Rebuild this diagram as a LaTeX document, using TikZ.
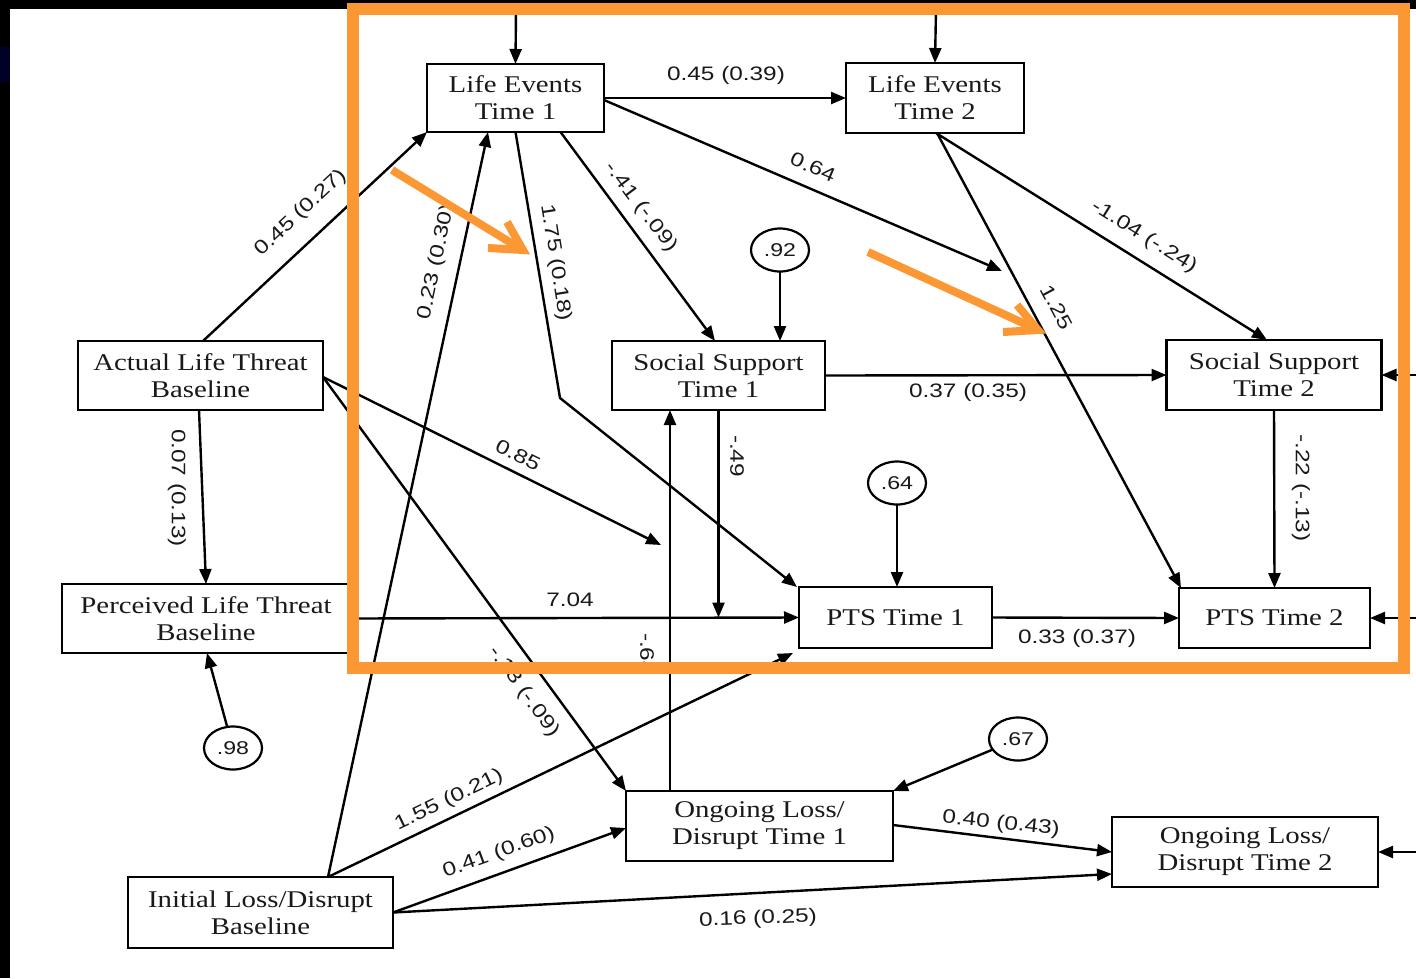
\documentclass[tikz,border=0pt]{standalone}
\usepackage{fontspec}
\usetikzlibrary{arrows.meta,shapes.geometric,calc}
\newfontfamily\boxfont[FakeStretch=1.2]{Liberation Serif}
\newfontfamily\lblfont[FakeStretch=1.25]{Liberation Sans}
\definecolor{frameorange}{RGB}{252,152,51}
\definecolor{navyblk}{RGB}{0,0,40}
\definecolor{inkgray}{RGB}{25,25,25}
\begin{document}
\begin{tikzpicture}[x=1pt,y=-1pt,
  box/.style={draw, line width=2.8pt, rectangle, inner sep=0pt, outer sep=0pt, align=center,
    font=\boxfont\fontsize{24}{27}\selectfont, text=inkgray, fill=white},
  err/.style={draw, ellipse, line width=2.2pt, minimum width=58pt, minimum height=43pt,
    inner sep=0pt, outer sep=0pt, font=\lblfont\fontsize{18.5}{19}\selectfont, text=inkgray, fill=white},
  lbl/.style={inner sep=0pt, text=inkgray, font=\lblfont\fontsize{19.5}{20}\selectfont},
  conn/.style={line width=2.4pt, -{Triangle[length=15pt,width=12pt]}},
  hlarrow/.style={draw=frameorange, line width=8pt},
]
\fill[white] (0,0) rectangle (1416,978);
\useasboundingbox (0,0) rectangle (1416,978);

% boxes
\node[box, minimum width=177pt, minimum height=68pt] (LE1) at (515.5,98) {Life Events\\Time 1};
\node[box, minimum width=178pt, minimum height=70pt] (LE2) at (935,98) {Life Events\\Time 2};
\node[box, minimum width=213pt, minimum height=69pt] (SS1) at (718.5,375.5) {Social Support\\Time 1};
\node[box, minimum width=215pt, minimum height=70pt] (SS2) at (1274,375) {Social Support\\Time 2};
\node[box, minimum width=245pt, minimum height=69pt] (ALT) at (200.5,375.5) {Actual Life Threat\\Baseline};
\node[box, minimum width=288pt, minimum height=69pt] (PLT) at (206,618.5) {Perceived Life Threat\\Baseline};
\node[box, minimum width=265pt, minimum height=71pt] (ILD) at (260.5,912.5) {Initial Loss/Disrupt\\Baseline};
\node[box, minimum width=193pt, minimum height=61pt] (PTS1) at (895.5,617.5) {PTS Time 1};
\node[box, minimum width=191pt, minimum height=60pt] (PTS2) at (1274.5,618) {PTS Time 2};
\node[box, minimum width=267pt, minimum height=70pt] (OL1) at (759.5,826) {Ongoing Loss/\\Disrupt Time 1};
\node[box, minimum width=266pt, minimum height=70pt] (OL2) at (1245,852) {Ongoing Loss/\\Disrupt Time 2};

% error terms
\node[err] (e92) at (780,250) {.92};
\node[err] (e64) at (897,483) {.64};
\node[err] (e98) at (233,748) {.98};
\node[err] (e67) at (1018,739) {.67};

% free ends
\coordinate (m85) at (661,545);
\coordinate (m64) at (1002,271);
\coordinate (bend1) at (560,398);
\coordinate (m49) at (SS1.south |- PTS1.west);
\coordinate (top1) at (516,9);
\coordinate (top2) at (936,9);
\coordinate (rt1) at (1416,375);
\coordinate (rt2) at (1416,618);
\coordinate (rt3) at (1416,852);

% connectors
\draw[conn] ([xshift=2.5pt]ALT.north) -- (LE1.south west);
\draw[conn] ([xshift=-1.5pt]ALT.south) -- (PLT.north);
\draw[conn] ([yshift=-1.5pt]ALT.east) -- (m85);
\draw[conn] ([yshift=-1.5pt]ALT.east) -- (OL1.north west);
\draw[conn] (LE1.east) -- (LE2.west);
\draw[conn] ([yshift=-2pt]LE1.east) -- (m64);
\draw[conn] ([xshift=45pt]LE1.south) -- ([xshift=-3.5pt]SS1.north);
\draw[conn] (LE1.south) -- (bend1) -- ([xshift=-2pt]PTS1.north west);
\draw[conn] ([xshift=67.5pt]ILD.north) -- ([xshift=-27.5pt]LE1.south);
\draw[conn] ([xshift=67.5pt]ILD.north) -- ([xshift=-6pt,yshift=-5pt]PTS1.south west);
\draw[conn] (ILD.east) -- ([yshift=-2pt]OL1.west);
\draw[conn] (ILD.east) -- ([yshift=-22pt]OL2.west);
\draw[conn] (PLT.east) -- (PTS1.west);
\draw[conn] (SS1.south) -- (m49);
\draw[conn] ([xshift=-89.5pt]OL1.north) -- ([xshift=-48.5pt]SS1.south);
\draw[conn] (SS1.east) -- (SS2.west);
\draw[conn] ([xshift=1pt]LE2.south) -- ([xshift=-7pt]SS2.north);
\draw[conn] ([xshift=2pt]LE2.south) -- ([xshift=2pt]PTS2.north west);
\draw[conn] (SS2.south) -- (PTS2.north);
\draw[conn] (PTS1.east) -- (PTS2.west);
\draw[conn] ([yshift=1pt]OL1.east) -- (OL2.west);
\draw[conn] (e92) -- ([xshift=61.5pt]SS1.north);
\draw[conn] (e64) -- ([xshift=1.5pt]PTS1.north);
\draw[conn] (e98) -- ([xshift=1pt]PLT.south);
\draw[conn] (e67) -- (OL1.north east);
\draw[conn] (top1) -- (LE1.north);
\draw[conn] (top2) -- (LE2.north);
\draw[conn] (rt1) -- (SS2.east);
\draw[conn] (rt2) -- (PTS2.east);
\draw[conn] (rt3) -- (OL2.east);

% labels
\node[lbl, rotate=43] (l1) at (301,213) {0.45 (0.27)};
\node[lbl, rotate=-90] (l2) at (177,488) {0.07 (0.13)};
\node[lbl, rotate=-26.5] (l3) at (518,455) {0.85};
\node[lbl, rotate=-54] (l4) at (524,692) {-.13 (-.09)};
\node[lbl] (l5) at (726,75) {0.45 (0.39)};
\node[lbl, rotate=-23] (l6) at (813,167) {0.64};
\node[lbl, rotate=-53] (l7) at (641,207) {-.41 (-.09)};
\node[lbl, rotate=-81] (l8) at (556,263) {1.75 (0.18)};
\node[lbl, rotate=78] (l9) at (437,262) {0.23 (0.30)};
\node[lbl, rotate=25.7] (l10) at (449,800) {1.55 (0.21)};
\node[lbl, rotate=20] (l11) at (499,853) {0.41 (0.60)};
\node[lbl, rotate=2] (l12) at (758,919) {0.16 (0.25)};
\node[lbl] (l13) at (570,600) {7.04};
\node[lbl, rotate=-90] (l14) at (737,456) {-.49};
\node[lbl, rotate=-90] (l15) at (647,654) {-.64};
\node[lbl] (l16) at (968,392) {0.37 (0.35)};
\node[lbl, rotate=-32] (l17) at (1144,237) {-1.04 (-.24)};
\node[lbl, rotate=-62] (l18) at (1057,307) {1.25};
\node[lbl, rotate=-90] (l19) at (1301,488) {-.22 (-.13)};
\node[lbl] (l20) at (1077,638) {0.33 (0.37)};
\node[lbl, rotate=-6] (l21) at (1001,824) {0.40 (0.43)};

% black edges of the slide
\fill[black] (0,0) rectangle (1416,9);
\fill[black] (0,0) rectangle (10,978);
\fill[navyblk] (0,47) rectangle (10,82);

% orange highlight frame and arrows
\draw[frameorange, line width=12pt] (353,9) rectangle (1404,667.5);
\draw[hlarrow] (392,170) -- (521,249);
\draw[hlarrow, line join=miter] (507,222) -- (523,250) -- (488,248);
\draw[hlarrow] (868,252) -- (1036,329);
\draw[hlarrow, line join=miter] (1017,305) -- (1038,330) -- (1003,332);
\end{tikzpicture}
\end{document}
